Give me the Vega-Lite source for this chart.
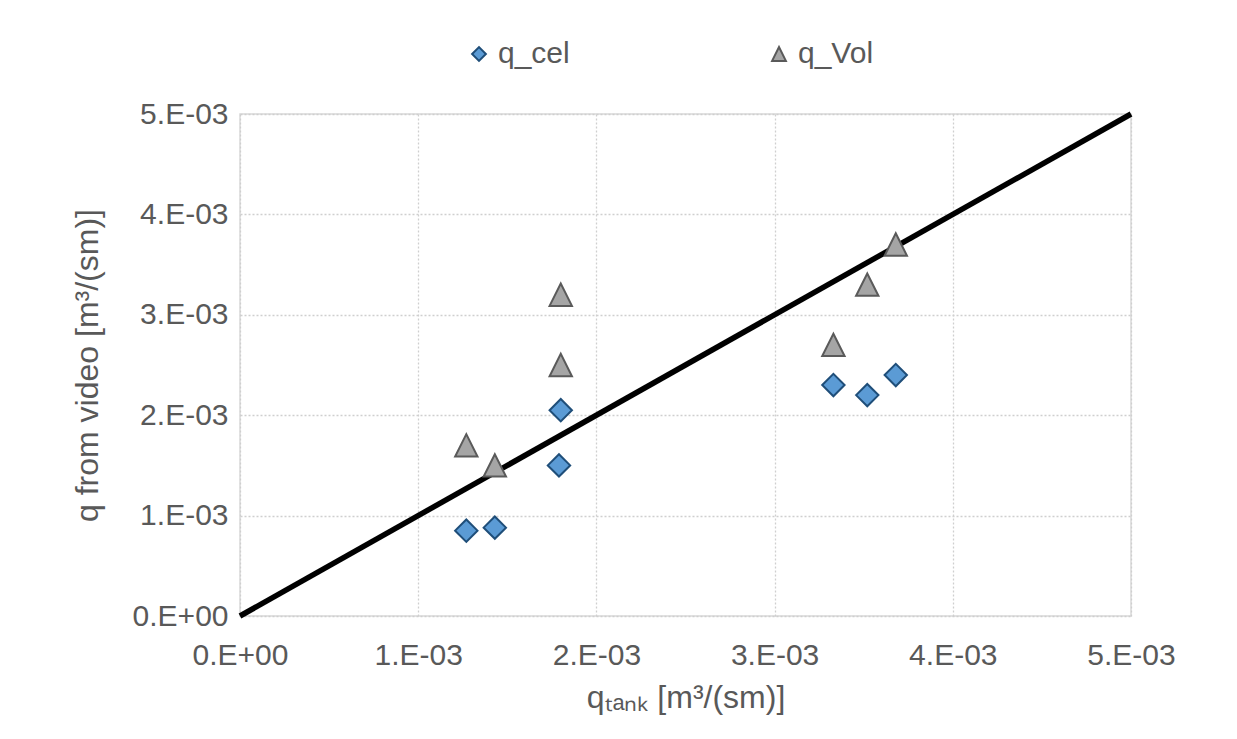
{
  "$schema": "https://vega.github.io/schema/vega-lite/v6.json",
  "width": 891,
  "height": 502,
  "autosize": {"type": "none"},
  "padding": {"left": 240, "top": 114, "right": 106, "bottom": 123},
  "background": "white",
  "config": {
    "font": "Liberation Sans",
    "view": {"stroke": "#d9d9d9", "strokeWidth": 1.5},
    "axis": {
      "labelFont": "Liberation Sans",
      "titleFont": "Liberation Sans",
      "labelFontSize": 30,
      "titleFontSize": 32,
      "labelColor": "#595959",
      "titleColor": "#595959",
      "titleFontWeight": "normal",
      "labelFlush": false,
      "labelOverlap": false,
      "domain": false,
      "ticks": false,
      "tickSize": 0,
      "gridColor": "#cfcfcf",
      "gridDash": [2, 2],
      "gridWidth": 1.3
    },
    "legend": {
      "labelFont": "Liberation Sans",
      "labelFontSize": 30,
      "labelColor": "#595959"
    }
  },
  "datasets": {
    "points": [
      {"series": "q_cel", "qtank": 0.00127, "qvideo": 0.00085},
      {"series": "q_cel", "qtank": 0.00143, "qvideo": 0.00088},
      {"series": "q_cel", "qtank": 0.00179, "qvideo": 0.0015},
      {"series": "q_cel", "qtank": 0.0018, "qvideo": 0.00205},
      {"series": "q_cel", "qtank": 0.00333, "qvideo": 0.0023},
      {"series": "q_cel", "qtank": 0.00352, "qvideo": 0.0022},
      {"series": "q_cel", "qtank": 0.00368, "qvideo": 0.0024},
      {"series": "q_Vol", "qtank": 0.00127, "qvideo": 0.0017},
      {"series": "q_Vol", "qtank": 0.00143, "qvideo": 0.0015},
      {"series": "q_Vol", "qtank": 0.0018, "qvideo": 0.0025},
      {"series": "q_Vol", "qtank": 0.0018, "qvideo": 0.0032},
      {"series": "q_Vol", "qtank": 0.00333, "qvideo": 0.0027},
      {"series": "q_Vol", "qtank": 0.00352, "qvideo": 0.0033},
      {"series": "q_Vol", "qtank": 0.00368, "qvideo": 0.0037}
    ],
    "line": [
      {"qtank": 0, "qvideo": 0},
      {"qtank": 0.005, "qvideo": 0.005}
    ]
  },
  "layer": [
    {
      "data": {"name": "line"},
      "mark": {"type": "line", "color": "black", "strokeWidth": 5.5, "clip": false},
      "encoding": {
        "x": {
          "field": "qtank", "type": "quantitative",
          "scale": {"domain": [0, 0.005], "nice": false},
          "axis": {
            "values": [0, 0.001, 0.002, 0.003, 0.004, 0.005],
            "labelExpr": "datum.value == 0 ? '0.E+00' : format(datum.value * 1000, '.0f') + '.E-03'",
            "labelPadding": 24,
            "title": "qₜₐₙₖ [m³/(sm)]",
            "titlePadding": 12
          }
        },
        "y": {
          "field": "qvideo", "type": "quantitative",
          "scale": {"domain": [0, 0.005], "nice": false},
          "axis": {
            "values": [0, 0.001, 0.002, 0.003, 0.004, 0.005],
            "labelExpr": "datum.value == 0 ? '0.E+00' : format(datum.value * 1000, '.0f') + '.E-03'",
            "labelPadding": 12,
            "title": "q from video [m³/(sm)]",
            "titlePadding": 28
          }
        }
      }
    },
    {
      "data": {"name": "points"},
      "mark": {"type": "point", "filled": true, "opacity": 1, "strokeWidth": 2},
      "encoding": {
        "x": {"field": "qtank", "type": "quantitative"},
        "y": {"field": "qvideo", "type": "quantitative"},
        "shape": {
          "field": "series", "type": "nominal",
          "scale": {"domain": ["q_cel", "q_Vol"], "range": ["diamond", "M-1,1L1,1L0,-1Z"]},
          "legend": {
            "title": null,
            "orient": "none",
            "direction": "horizontal",
            "legendX": 224,
            "legendY": -75,
            "columnPadding": 194,
            "symbolSize": 190,
            "symbolStrokeWidth": 2,
            "labelOffset": 4
          }
        },
        "fill": {
          "field": "series", "type": "nominal",
          "scale": {"domain": ["q_cel", "q_Vol"], "range": ["#5b9bd5", "#a5a5a5"]},
          "legend": null
        },
        "stroke": {
          "field": "series", "type": "nominal",
          "scale": {"domain": ["q_cel", "q_Vol"], "range": ["#1f4e79", "#5a5a5a"]},
          "legend": null
        },
        "size": {"value": 500}
      }
    }
  ]
}
